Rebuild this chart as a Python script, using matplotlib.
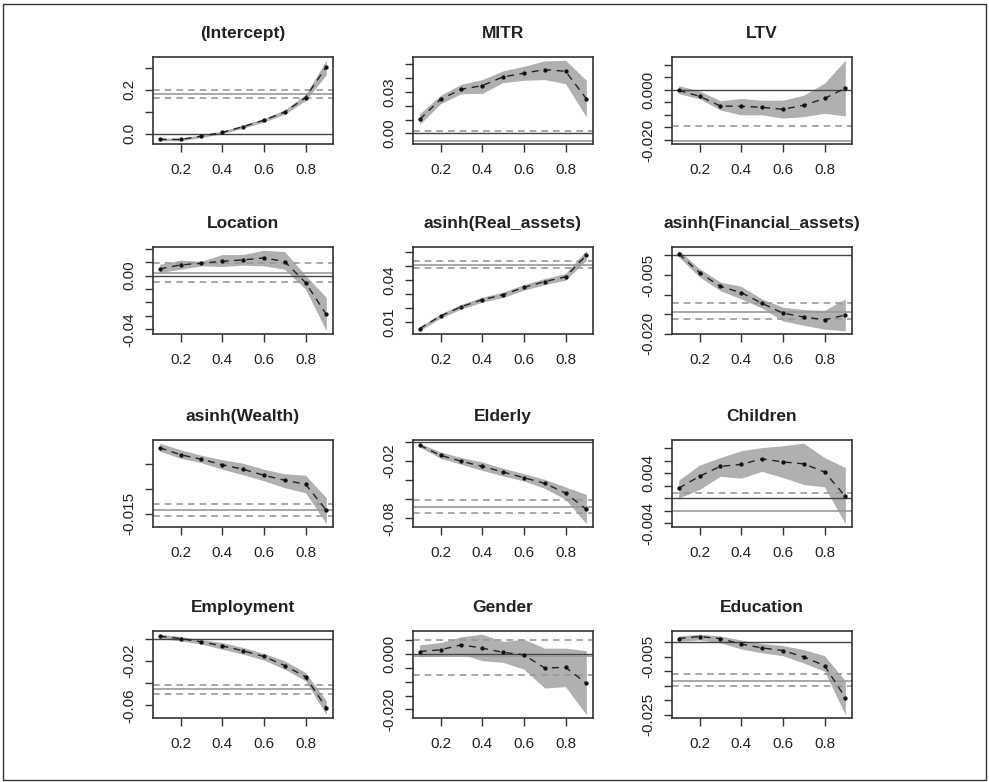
import matplotlib
matplotlib.use("Agg")
import matplotlib.pyplot as plt
import numpy as np

plt.rcParams['font.family'] = ['Liberation Sans', 'DejaVu Sans']

taus = [0.1, 0.2, 0.3, 0.4, 0.5, 0.6, 0.7, 0.8, 0.9]

titles = ["(Intercept)", "MITR", "LTV",
          "Location", "asinh(Real_assets)", "asinh(Financial_assets)",
          "asinh(Wealth)", "Elderly", "Children",
          "Employment", "Gender", "Education"]

# quantile coefficients
coef = [
    [-0.026, -0.026, -0.011, 0.006, 0.032, 0.061, 0.098, 0.164, 0.303],
    [0.0102, 0.0247, 0.032, 0.0346, 0.0409, 0.0436, 0.0462, 0.045, 0.0252],
    [-0.0003, -0.0026, -0.0065, -0.0066, -0.007, -0.0078, -0.0062, -0.0035, 0.0006],
    [0.0049, 0.0079, 0.0091, 0.0106, 0.0116, 0.0131, 0.0104, -0.0052, -0.0289],
    [0.0052, 0.0143, 0.021, 0.026, 0.0295, 0.0348, 0.039, 0.0424, 0.0579],
    [0.0004, -0.0044, -0.0079, -0.0095, -0.0122, -0.0147, -0.0157, -0.0164, -0.0152],
    [-0.0018, -0.0032, -0.0041, -0.0052, -0.0061, -0.0073, -0.0083, -0.0091, -0.0143],
    [-0.0038, -0.0143, -0.0205, -0.0257, -0.0317, -0.0376, -0.0435, -0.0536, -0.0706],
    [0.0016, 0.0035, 0.0051, 0.0054, 0.0063, 0.0058, 0.0055, 0.0042, 0.0003],
    [0.0024, 0.0003, -0.0027, -0.0063, -0.0108, -0.0159, -0.0241, -0.0343, -0.0623],
    [0.0008, 0.0014, 0.0032, 0.002, 0.0005, -0.0004, -0.0051, -0.0049, -0.0106],
    [0.0012, 0.0019, 0.0012, -0.0007, -0.002, -0.0029, -0.0051, -0.0081, -0.0191],
]

# confidence band, lower and upper
band_lo = [
    [-0.032, -0.032, -0.017, 0.0, 0.025, 0.053, 0.088, 0.150, 0.267],
    [0.0065, 0.0215, 0.0288, 0.029, 0.0368, 0.0385, 0.039, 0.036, 0.0119],
    [-0.0016, -0.0036, -0.0081, -0.010, -0.010, -0.0113, -0.0107, -0.0094, -0.0104],
    [0.0022, 0.0047, 0.0072, 0.0067, 0.0077, 0.0072, 0.0047, -0.0101, -0.041],
    [0.0037, 0.0128, 0.0193, 0.0242, 0.0276, 0.0328, 0.0368, 0.040, 0.0543],
    [-0.0004, -0.0055, -0.009, -0.0111, -0.0134, -0.0167, -0.0178, -0.0188, -0.0192],
    [-0.0025, -0.0039, -0.0048, -0.0061, -0.0072, -0.0084, -0.0098, -0.0108, -0.017],
    [-0.0056, -0.0174, -0.0237, -0.030, -0.0358, -0.041, -0.0487, -0.0602, -0.0856],
    [0.0, 0.0014, 0.0035, 0.0032, 0.0043, 0.0033, 0.0022, 0.0018, -0.0041],
    [0.0006, -0.0018, -0.0048, -0.0093, -0.0138, -0.0192, -0.0274, -0.0379, -0.0686],
    [-0.0011, -0.0007, -0.0001, -0.0025, -0.0031, -0.0055, -0.0123, -0.0118, -0.0219],
    [0.0003, 0.0007, -0.0002, -0.0024, -0.0037, -0.0047, -0.0072, -0.010, -0.025],
]
band_hi = [
    [-0.020, -0.020, -0.005, 0.012, 0.039, 0.069, 0.108, 0.178, 0.333],
    [0.0143, 0.0276, 0.0356, 0.039, 0.0453, 0.0486, 0.0525, 0.053, 0.0385],
    [0.0016, -0.0005, -0.0044, -0.0035, -0.0042, -0.0042, -0.0022, 0.0026, 0.0117],
    [0.0084, 0.0114, 0.0106, 0.0156, 0.0156, 0.0188, 0.0178, 0.0002, -0.0163],
    [0.0067, 0.0158, 0.0227, 0.0278, 0.0314, 0.0368, 0.0412, 0.0448, 0.0615],
    [0.0013, -0.0034, -0.0068, -0.0079, -0.0111, -0.0132, -0.0138, -0.014, -0.0111],
    [-0.0009, -0.0022, -0.0033, -0.0042, -0.0049, -0.0061, -0.007, -0.0073, -0.0118],
    [-0.0017, -0.0108, -0.0167, -0.0212, -0.0278, -0.0334, -0.0393, -0.0473, -0.055],
    [0.0029, 0.0053, 0.0065, 0.0076, 0.0081, 0.0084, 0.0088, 0.0065, 0.0049],
    [0.0042, 0.0021, -0.0006, -0.0033, -0.0078, -0.0132, -0.0198, -0.0304, -0.056],
    [0.0032, 0.004, 0.0061, 0.007, 0.0044, 0.0052, 0.002, 0.002, 0.0011],
    [0.0021, 0.0027, 0.0021, 0.0007, -0.0005, -0.0012, -0.0026, -0.0047, -0.0133],
]

# OLS estimate and its interval
ols_coef = [0.179, -0.0053, -0.0203, 0.002, 0.051, -0.0144, -0.0143, -0.0678, -0.002, -0.0457, -0.0008, -0.0135]
ols_lo = [0.162, -0.0123, -0.0263, -0.0049, 0.0486, -0.0163, -0.0155, -0.0744, -0.0049, -0.0499, -0.0076, -0.0151]
ols_hi = [0.197, 0.0017, -0.0143, 0.0094, 0.0536, -0.0121, -0.013, -0.0609, 0.0009, -0.0415, 0.005, -0.011]

# y ticks and the labels R kept
yticks = [
    [0.0, 0.1, 0.2, 0.3],
    [0.0, 0.01, 0.02, 0.03, 0.04, 0.05],
    [0.01, 0.005, 0.0, -0.005, -0.01, -0.015, -0.02],
    [0.02, 0.01, 0.0, -0.01, -0.02, -0.03, -0.04],
    [0.01, 0.02, 0.03, 0.04, 0.05, 0.06],
    [0.0, -0.005, -0.01, -0.015, -0.02],
    [-0.005, -0.01, -0.015],
    [0.0, -0.02, -0.04, -0.06, -0.08],
    [0.008, 0.006, 0.004, 0.002, 0.0, -0.002, -0.004],
    [0.0, -0.02, -0.04, -0.06],
    [0.005, 0.0, -0.005, -0.01, -0.015, -0.02],
    [0.0, -0.005, -0.01, -0.015, -0.02, -0.025],
]
ylabels = [
    ["0.0", "", "0.2", ""],
    ["0.00", "", "", "0.03", "", ""],
    ["", "", "0.000", "", "", "", "-0.020"],
    ["", "", "0.00", "", "", "", "-0.04"],
    ["0.01", "", "", "0.04", "", ""],
    ["", "-0.005", "", "", "-0.020"],
    ["", "", "-0.015"],
    ["", "-0.02", "", "", "-0.08"],
    ["", "", "0.004", "", "", "", "-0.004"],
    ["", "-0.02", "", "-0.06"],
    ["", "0.000", "", "", "", "-0.020"],
    ["", "-0.005", "", "", "", "-0.025"],
]

W, H = 989, 782
fig = plt.figure(figsize=(W / 100, H / 100), dpi=100)
fig.patches.append(plt.Rectangle((0.003, 0.002), 0.994, 0.993, transform=fig.transFigure,
                                 fill=False, edgecolor='#333333', linewidth=1.0))

col_left = [153, 413, 672]
row_top = [57, 247, 440, 631]
aw, ah = 180, 87

box_col = '#333333'
for i, name in enumerate(titles):
    r, c = divmod(i, 3)
    ax = fig.add_axes([col_left[c] / W, 1 - (row_top[r] + ah) / H, aw / W, ah / H])
    cf = np.array(coef[i])
    lo = np.array(band_lo[i])
    hi = np.array(band_hi[i])

    ax.fill_between(taus, lo, hi, color='#b0b0b0', linewidth=0, zorder=1)
    ax.axhline(0, color='#444444', linewidth=1.0, zorder=2)
    ax.axhline(ols_coef[i], color='#999999', linewidth=1.2, zorder=2)
    ax.axhline(ols_lo[i], color='#999999', linewidth=1.2, linestyle=(0, (4, 3)), zorder=2)
    ax.axhline(ols_hi[i], color='#999999', linewidth=1.2, linestyle=(0, (4, 3)), zorder=2)
    ax.plot(taus, cf, color='#222222', linewidth=1.0, linestyle=(0, (5, 4)), zorder=3)
    ax.plot(taus, cf, 'o', color='#111111', markersize=2.1, zorder=4)

    ymin = min(lo.min(), ols_coef[i])
    ymax = max(hi.max(), ols_coef[i])
    span = ymax - ymin
    ax.set_ylim(ymin - 0.04 * span, ymax + 0.04 * span)
    ax.set_xlim(0.068, 0.932)

    ax.set_xticks([0.2, 0.4, 0.6, 0.8])
    ax.set_xticklabels(["0.2", "0.4", "0.6", "0.8"])
    ax.set_yticks(yticks[i])
    ax.set_yticklabels(ylabels[i], rotation=90, va='center')
    ax.tick_params(direction='out', length=6, width=1.0, color=box_col,
                   labelsize=11, labelcolor='#222222')
    ax.tick_params(axis='x', pad=8)
    ax.tick_params(axis='y', pad=6)
    for s in ax.spines.values():
        s.set_color(box_col)
        s.set_linewidth(1.2)
    ax.set_title(name, fontsize=12.5, fontweight='bold', color='#222222', pad=14)

fig.savefig('out.png', dpi=100)
